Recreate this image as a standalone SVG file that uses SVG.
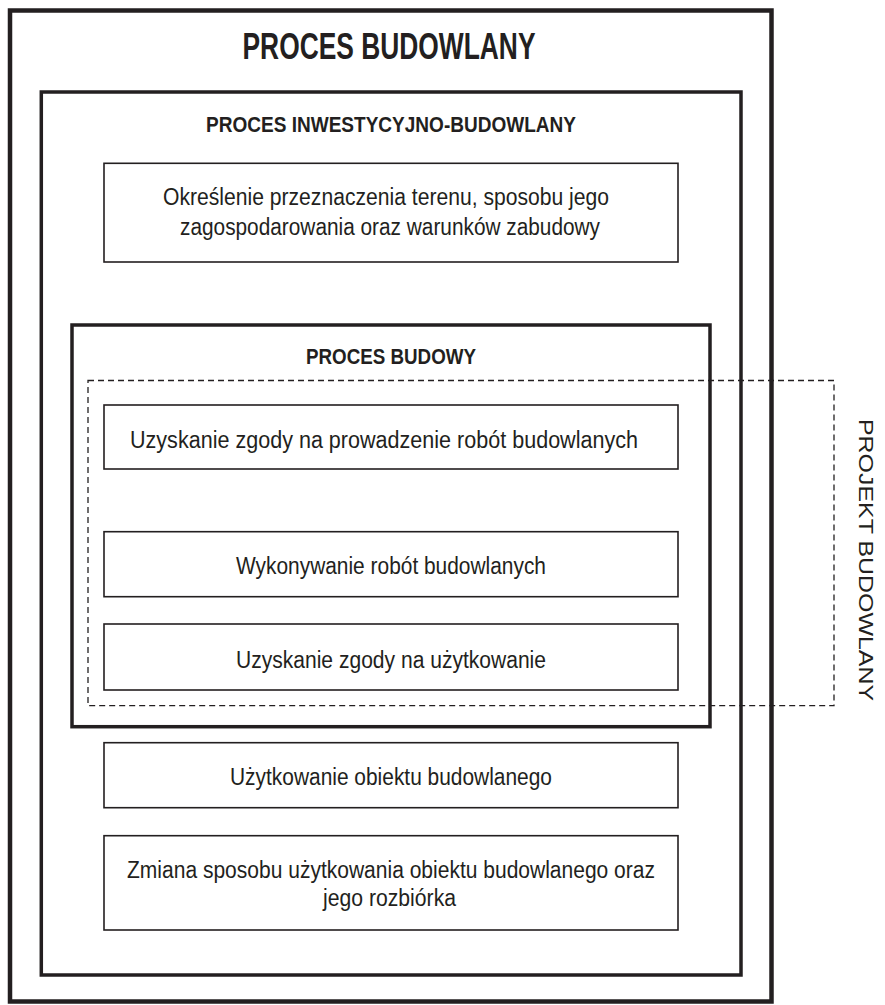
<svg xmlns="http://www.w3.org/2000/svg" width="885" height="1005" viewBox="0 0 885 1005">
<style>
.frame{fill:none;stroke:#231f20;stroke-linejoin:miter}
.box{fill:none;stroke:#231f20;stroke-width:1.6}
.dash{fill:none;stroke:#231f20;stroke-width:1.3;stroke-dasharray:6 4}
.t{font-family:"Liberation Sans",Arial,sans-serif;fill:#231f20;text-anchor:middle}
.h{font-weight:bold}
.r{font-size:23.5px}
</style>
<rect width="885" height="1005" fill="#ffffff"/>
<g id="proces-budowlany">
<rect class="frame" x="10" y="10.5" width="761.5" height="991" stroke-width="4.5"/>
<text class="t h" x="389" y="59" font-size="36" textLength="293" lengthAdjust="spacingAndGlyphs">PROCES BUDOWLANY</text>
</g>
<g id="proces-inwestycyjno-budowlany">
<rect class="frame" x="41.3" y="92" width="699.7" height="883" stroke-width="3.5"/>
<text class="t h" x="391" y="131.5" font-size="22.5" textLength="370" lengthAdjust="spacingAndGlyphs">PROCES INWESTYCYJNO-BUDOWLANY</text>
</g>
<g id="okreslenie">
<rect class="box" x="104" y="163.3" width="574" height="98.7"/>
<text class="t r" x="386" y="205" textLength="446" lengthAdjust="spacingAndGlyphs">Określenie przeznaczenia terenu, sposobu jego</text>
<text class="t r" x="390" y="235" textLength="420" lengthAdjust="spacingAndGlyphs">zagospodarowania oraz warunków zabudowy</text>
</g>
<g id="proces-budowy">
<rect class="frame" x="72" y="325" width="638" height="401.7" stroke-width="3.5"/>
<text class="t h" x="391" y="364" font-size="21.5" textLength="170" lengthAdjust="spacingAndGlyphs">PROCES BUDOWY</text>
</g>
<g id="uzyskanie-zgody-roboty">
<rect class="box" x="104" y="405" width="574" height="64"/>
<text class="t r" x="384" y="448" textLength="508" lengthAdjust="spacingAndGlyphs">Uzyskanie zgody na prowadzenie robót budowlanych</text>
</g>
<g id="wykonywanie">
<rect class="box" x="104" y="531.7" width="574" height="65"/>
<text class="t r" x="391" y="574" textLength="310" lengthAdjust="spacingAndGlyphs">Wykonywanie robót budowlanych</text>
</g>
<g id="uzyskanie-zgody-uzytkowanie">
<rect class="box" x="104" y="624" width="574" height="66"/>
<text class="t r" x="391" y="668" textLength="310" lengthAdjust="spacingAndGlyphs">Uzyskanie zgody na użytkowanie</text>
</g>
<g id="projekt-budowlany">
<rect class="dash" x="88" y="380.5" width="746" height="325.2"/>
<text class="t" x="0" y="0" font-size="20.5" transform="translate(858.5,560) rotate(90)" textLength="282" lengthAdjust="spacingAndGlyphs">PROJEKT BUDOWLANY</text>
</g>
<g id="uzytkowanie">
<rect class="box" x="104" y="742.7" width="574" height="65"/>
<text class="t r" x="391" y="784.5" textLength="322" lengthAdjust="spacingAndGlyphs">Użytkowanie obiektu budowlanego</text>
</g>
<g id="zmiana-sposobu">
<rect class="box" x="104" y="835.7" width="574" height="94.3"/>
<text class="t r" x="391" y="878.3" textLength="528" lengthAdjust="spacingAndGlyphs">Zmiana sposobu użytkowania obiektu budowlanego oraz</text>
<text class="t r" x="389.5" y="906" textLength="133" lengthAdjust="spacingAndGlyphs">jego rozbiórka</text>
</g>
<g id="connectors"></g>
</svg>
